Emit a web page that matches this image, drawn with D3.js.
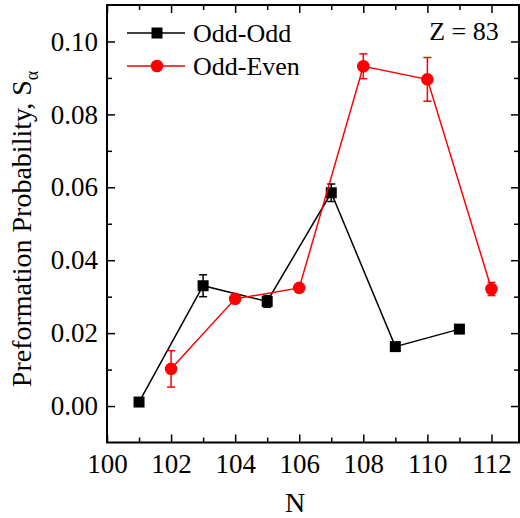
<!DOCTYPE html>
<html>
<head>
<meta charset="utf-8">
<script src="https://cdn.jsdelivr.net/npm/d3@7"></script>
</head>
<body style="margin:0">
<svg width="520" height="518"></svg>
<script>
// data
var oddOddN   = [101, 103, 105, 107, 109, 111];
var oddOddS   = [0.0011, 0.0330, 0.0287, 0.0585, 0.0163, 0.0211];
var oddOddErr = [0.0004, 0.0030, 0.0016, 0.0024, 0.0006, 0.0006];

var oddEvenN   = [102, 104, 106, 108, 110, 112];
var oddEvenS   = [0.0102, 0.0294, 0.0324, 0.0932, 0.0896, 0.0321];
var oddEvenErr = [0.0050, 0.0012, 0.0006, 0.0034, 0.0060, 0.0018];

var xMajor = [100, 102, 104, 106, 108, 110, 112];
var xMinor = [101, 103, 105, 107, 109, 111];
var yMajor = [0.00, 0.02, 0.04, 0.06, 0.08, 0.10];
var yMinor = [0.01, 0.03, 0.05, 0.07, 0.09];

var FONT = "Liberation Serif";

var svg = d3.select("svg"),
    pLeft = 107, pRight = 519, pTop = 5, pBottom = 442.5;

var x = d3.scaleLinear().domain([100, 112.86]).range([pLeft, pRight]),
    y = d3.scaleLinear().domain([-0.01, 0.11]).range([pBottom, pTop]);

var fs = 26;

function addText(px, py, size, str) {
    return svg.append("text")
        .attr("x", px).attr("y", py)
        .attr("font-size", size)
        .attr("font-family", FONT)
        .style("font-family", FONT)
        .text(str);
}

// axes - ticks point inward
function styleAxis(g) {
    g.attr("font-family", null);
    g.select(".domain").remove();
    g.selectAll("line").attr("stroke", "#000").attr("stroke-width", 1.5);
    g.selectAll("text").attr("font-size", 27).attr("fill", "#000")
        .attr("font-family", FONT).style("font-family", FONT);
}

svg.append("g").attr("transform", "translate(0," + pBottom + ")")
    .call(d3.axisBottom(x).tickValues(xMajor).tickSize(-8).tickPadding(11).tickFormat(d3.format("d")))
    .call(styleAxis)
    .selectAll("text").attr("dy", "0.71em");
svg.append("g").attr("transform", "translate(0," + pBottom + ")")
    .call(d3.axisBottom(x).tickValues(xMinor).tickSize(-5).tickFormat(""))
    .call(styleAxis);

svg.append("g").attr("transform", "translate(0," + pTop + ")")
    .call(d3.axisTop(x).tickValues(xMajor).tickSize(-8).tickFormat(""))
    .call(styleAxis);
svg.append("g").attr("transform", "translate(0," + pTop + ")")
    .call(d3.axisTop(x).tickValues(xMinor).tickSize(-5).tickFormat(""))
    .call(styleAxis);

svg.append("g").attr("transform", "translate(" + pLeft + ",0)")
    .call(d3.axisLeft(y).tickValues(yMajor).tickSize(-8).tickPadding(9).tickFormat(d3.format(".2f")))
    .call(styleAxis);
svg.append("g").attr("transform", "translate(" + pLeft + ",0)")
    .call(d3.axisLeft(y).tickValues(yMinor).tickSize(-5).tickFormat(""))
    .call(styleAxis);

svg.append("g").attr("transform", "translate(" + pRight + ",0)")
    .call(d3.axisRight(y).tickValues(yMajor).tickSize(-8).tickFormat(""))
    .call(styleAxis);
svg.append("g").attr("transform", "translate(" + pRight + ",0)")
    .call(d3.axisRight(y).tickValues(yMinor).tickSize(-5).tickFormat(""))
    .call(styleAxis);

// frame
svg.append("rect")
    .attr("x", pLeft).attr("y", pTop)
    .attr("width", pRight - pLeft).attr("height", pBottom - pTop)
    .attr("fill", "none").attr("stroke", "#000").attr("stroke-width", 2);

// axis titles
addText(295, 512, 28, "N").attr("text-anchor", "middle");

var yt = addText(0, 0, 28, "")
    .attr("transform", "translate(31,229) rotate(-90)")
    .attr("text-anchor", "middle");
yt.append("tspan").text("Preformation Probability, S");
yt.append("tspan").attr("font-size", 18).attr("dy", 7).text("α");

addText(464, 40, fs, "Z = 83").attr("text-anchor", "middle");

// series
function drawSeries(ns, vals, errs, color, shape) {
    var pts = ns.map(function(n, i) { return {n: n, s: vals[i], e: errs[i]}; });
    var g = svg.append("g");

    g.append("path").datum(pts)
        .attr("fill", "none").attr("stroke", color).attr("stroke-width", 1.5)
        .attr("d", d3.line().x(function(d) { return x(d.n); }).y(function(d) { return y(d.s); }));

    var eb = g.selectAll(".err").data(pts).enter().append("g")
        .attr("stroke", color).attr("stroke-width", 1.5);
    eb.append("line")
        .attr("x1", function(d) { return x(d.n); }).attr("x2", function(d) { return x(d.n); })
        .attr("y1", function(d) { return y(d.s - d.e); }).attr("y2", function(d) { return y(d.s + d.e); });
    [-1, 1].forEach(function(k) {
        eb.append("line")
            .attr("x1", function(d) { return x(d.n) - 4; }).attr("x2", function(d) { return x(d.n) + 4; })
            .attr("y1", function(d) { return y(d.s + k * d.e); }).attr("y2", function(d) { return y(d.s + k * d.e); });
    });

    if (shape == "square") {
        g.selectAll("rect").data(pts).enter().append("rect")
            .attr("x", function(d) { return x(d.n) - 5.5; })
            .attr("y", function(d) { return y(d.s) - 5.5; })
            .attr("width", 11).attr("height", 11)
            .attr("fill", color);
    } else {
        g.selectAll("circle").data(pts).enter().append("circle")
            .attr("cx", function(d) { return x(d.n); })
            .attr("cy", function(d) { return y(d.s); })
            .attr("r", 6.3).attr("fill", color);
    }
}

drawSeries(oddOddN, oddOddS, oddOddErr, "#000", "square");
drawSeries(oddEvenN, oddEvenS, oddEvenErr, "#ff0000", "circle");

// legend
var legend = [
    {label: "Odd-Odd", color: "#000", shape: "square", y: 33},
    {label: "Odd-Even", color: "#ff0000", shape: "circle", y: 66}
];
legend.forEach(function(l) {
    svg.append("line").attr("x1", 127).attr("x2", 185).attr("y1", l.y).attr("y2", l.y)
        .attr("stroke", l.color).attr("stroke-width", 1.5);
    if (l.shape == "square") {
        svg.append("rect").attr("x", 157 - 5.5).attr("y", l.y - 5.5)
            .attr("width", 11).attr("height", 11).attr("fill", l.color);
    } else {
        svg.append("circle").attr("cx", 157).attr("cy", l.y).attr("r", 6.3).attr("fill", l.color);
    }
    addText(193, l.y + 9, fs, l.label);
});
</script>
</body>
</html>
